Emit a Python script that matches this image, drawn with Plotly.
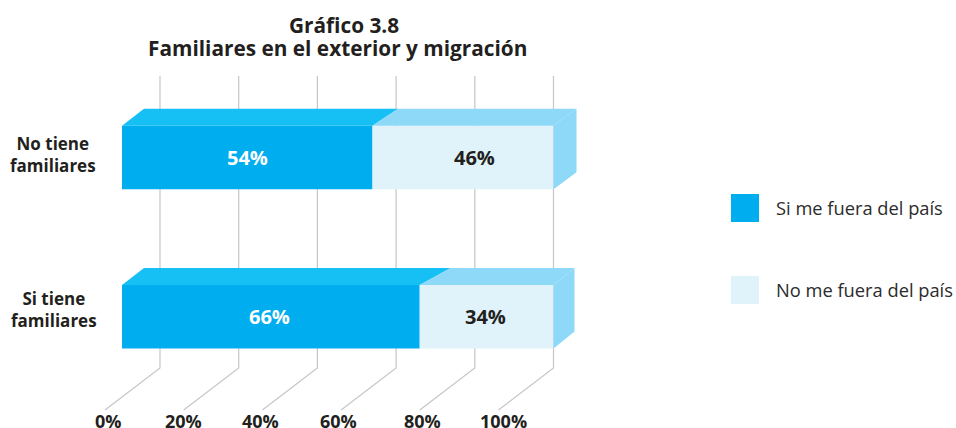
import plotly.graph_objects as go

# ---------- data ----------
title_lines = ["Gráfico 3.8", "Familiares en el exterior y migración"]
categories = ["Si tiene familiares", "No tiene familiares"]
category_labels = ["Si tiene<br>familiares", "No tiene<br>familiares"]
si_me_fuera = [66, 54]
no_me_fuera = [34, 46]
tick_values = [0, 20, 40, 60, 80, 100]
tick_labels = ["0%", "20%", "40%", "60%", "80%", "100%"]
series_names = ["Si me fuera del país", "No me fuera del país"]

# ---------- styling / geometry ----------
W, H = 956, 428
BLUE, BLUE_TOP = "#00AEEF", "#17C0F4"
PALE, PALE_TOP = "#E0F3FB", "#8ED8F8"
GRID = "#C6C6C8"
TEXT = "#231F20"
FONT = "Open Sans"

PX_PER_UNIT_X = 3.935
X0_PX = 160.0
PX_PER_ROW = 159.2
ROW1_PX = 157.6      # pixel centre of row index 1

xaxis_range = [(0 - X0_PX) / PX_PER_UNIT_X, (W - X0_PX) / PX_PER_UNIT_X]
yaxis_range = [1 - (H - ROW1_PX) / PX_PER_ROW, 1 + ROW1_PX / PX_PER_ROW]


def dx(px):
    return px / PX_PER_UNIT_X


def dy(px):
    return px / PX_PER_ROW


BAR_START = (122 - X0_PX) / PX_PER_UNIT_X
BAR_WIDTH = dy(63.5)
DEPTH_Y = dy(17)
rows = [0, 1]
# horizontal shift of the receding faces, per row: start, split, end (px)
depth_shift = {0: (22, 31, 21), 1: (22, 25.5, 23)}

fig = go.Figure()

# top and side faces
for r, si in zip(rows, si_me_fuera):
    top = r + BAR_WIDTH / 2
    bot = r - BAR_WIDTH / 2
    s0, s1, s2 = (dx(v) for v in depth_shift[r])
    fig.add_trace(go.Scatter(
        x=[BAR_START, BAR_START + s0, si + s1, si],
        y=[top, top + DEPTH_Y, top + DEPTH_Y, top],
        fill="toself", fillcolor=BLUE_TOP, mode="none",
        showlegend=False, hoverinfo="skip"))
    fig.add_trace(go.Scatter(
        x=[si, si + s1, 100 + s2, 100],
        y=[top, top + DEPTH_Y, top + DEPTH_Y, top],
        fill="toself", fillcolor=PALE_TOP, mode="none",
        showlegend=False, hoverinfo="skip"))
    fig.add_trace(go.Scatter(
        x=[100, 100 + s2, 100 + s2, 100],
        y=[top, top + DEPTH_Y, bot + DEPTH_Y, bot],
        fill="toself", fillcolor=PALE_TOP, mode="none",
        showlegend=False, hoverinfo="skip"))

# front faces
fig.add_trace(go.Bar(
    y=rows, x=[v - BAR_START for v in si_me_fuera], base=BAR_START,
    orientation="h", width=BAR_WIDTH, marker=dict(color=BLUE, line_width=0),
    name=series_names[0], customdata=si_me_fuera, text=None,
    hovertemplate="%{customdata}%<extra>" + series_names[0] + "</extra>",
    showlegend=False))
fig.add_trace(go.Bar(
    y=rows, x=no_me_fuera, base=si_me_fuera,
    orientation="h", width=BAR_WIDTH, marker=dict(color=PALE, line_width=0),
    name=series_names[1],
    hovertemplate="%{x}%<extra>" + series_names[1] + "</extra>",
    showlegend=False))

# grid lines: up the back wall, then receding towards the tick label
GRID_TOP_PX, GRID_FLOOR_PX = 76, 368
GRID_END_DX, GRID_END_PX = 55, 410


def py(px):
    return 1 - (px - ROW1_PX) / PX_PER_ROW


shapes = []
for v in tick_values:
    path = (f"M {v} {py(GRID_TOP_PX)} L {v} {py(GRID_FLOOR_PX)} "
            f"L {v - dx(GRID_END_DX)} {py(GRID_END_PX)}")
    shapes.append(dict(type="path", path=path, xref="x", yref="y", layer="below",
                       line=dict(color=GRID, width=1.2)))

# legend swatches
LEG_X0, LEG_X1 = 731, 759
LEG_Y = [(194, 222), (276, 304)]
for (y0, y1), c in zip(LEG_Y, [BLUE, PALE]):
    shapes.append(dict(type="rect", xref="paper", yref="paper",
                       x0=LEG_X0 / W, x1=LEG_X1 / W,
                       y0=1 - y1 / H, y1=1 - y0 / H,
                       fillcolor=c, line_width=0))

annotations = []


def note(text, x_px, y_px, size, bold=False, color=TEXT, xanchor="center"):
    annotations.append(dict(
        text=f"<b>{text}</b>" if bold else text,
        xref="paper", yref="paper", x=x_px / W, y=1 - y_px / H,
        xanchor=xanchor, yanchor="middle", showarrow=False, align="center",
        font=dict(family=FONT, size=size, color=color)))


# title
note(title_lines[0], 344, 25, 20.8, True)
note(title_lines[1], 337, 48, 20.8, True)

# category labels
note(category_labels[0], 54, 309, 17, True)
note(category_labels[1], 53, 154, 17, True)

# value labels
VALUE_LABELS_X = {"si": [269, 247], "no": [485, 474]}
VALUE_LABELS_Y = [316, 157]
for v, xp, yp in zip(si_me_fuera, VALUE_LABELS_X["si"], VALUE_LABELS_Y):
    note(f"{v}%", xp, yp, 20, True, color="white")
for v, xp, yp in zip(no_me_fuera, VALUE_LABELS_X["no"], VALUE_LABELS_Y):
    note(f"{v}%", xp, yp, 20, True)

# tick labels
TICK_LABEL_X = [108, 183, 260, 338, 422, 503]
for lab, xp in zip(tick_labels, TICK_LABEL_X):
    note(lab, xp, 421, 18, True)

# legend labels
for name, (y0, y1) in zip(series_names, LEG_Y):
    note(name, 774, (y0 + y1) / 2 - 1, 18.3, xanchor="left", color="#2B2B2B")

fig.update_layout(
    width=W, height=H, autosize=False,
    margin=dict(l=0, r=0, t=0, b=0),
    paper_bgcolor="white", plot_bgcolor="rgba(0,0,0,0)",
    barmode="overlay", showlegend=False,
    xaxis=dict(range=xaxis_range, visible=False, fixedrange=True, domain=[0, 1]),
    yaxis=dict(range=yaxis_range, visible=False, fixedrange=True, domain=[0, 1]),
    shapes=shapes, annotations=annotations,
)

fig.write_html("out.html", config=dict(displayModeBar=False),
               post_script="document.body.style.margin='0';document.documentElement.style.overflow='hidden';")
